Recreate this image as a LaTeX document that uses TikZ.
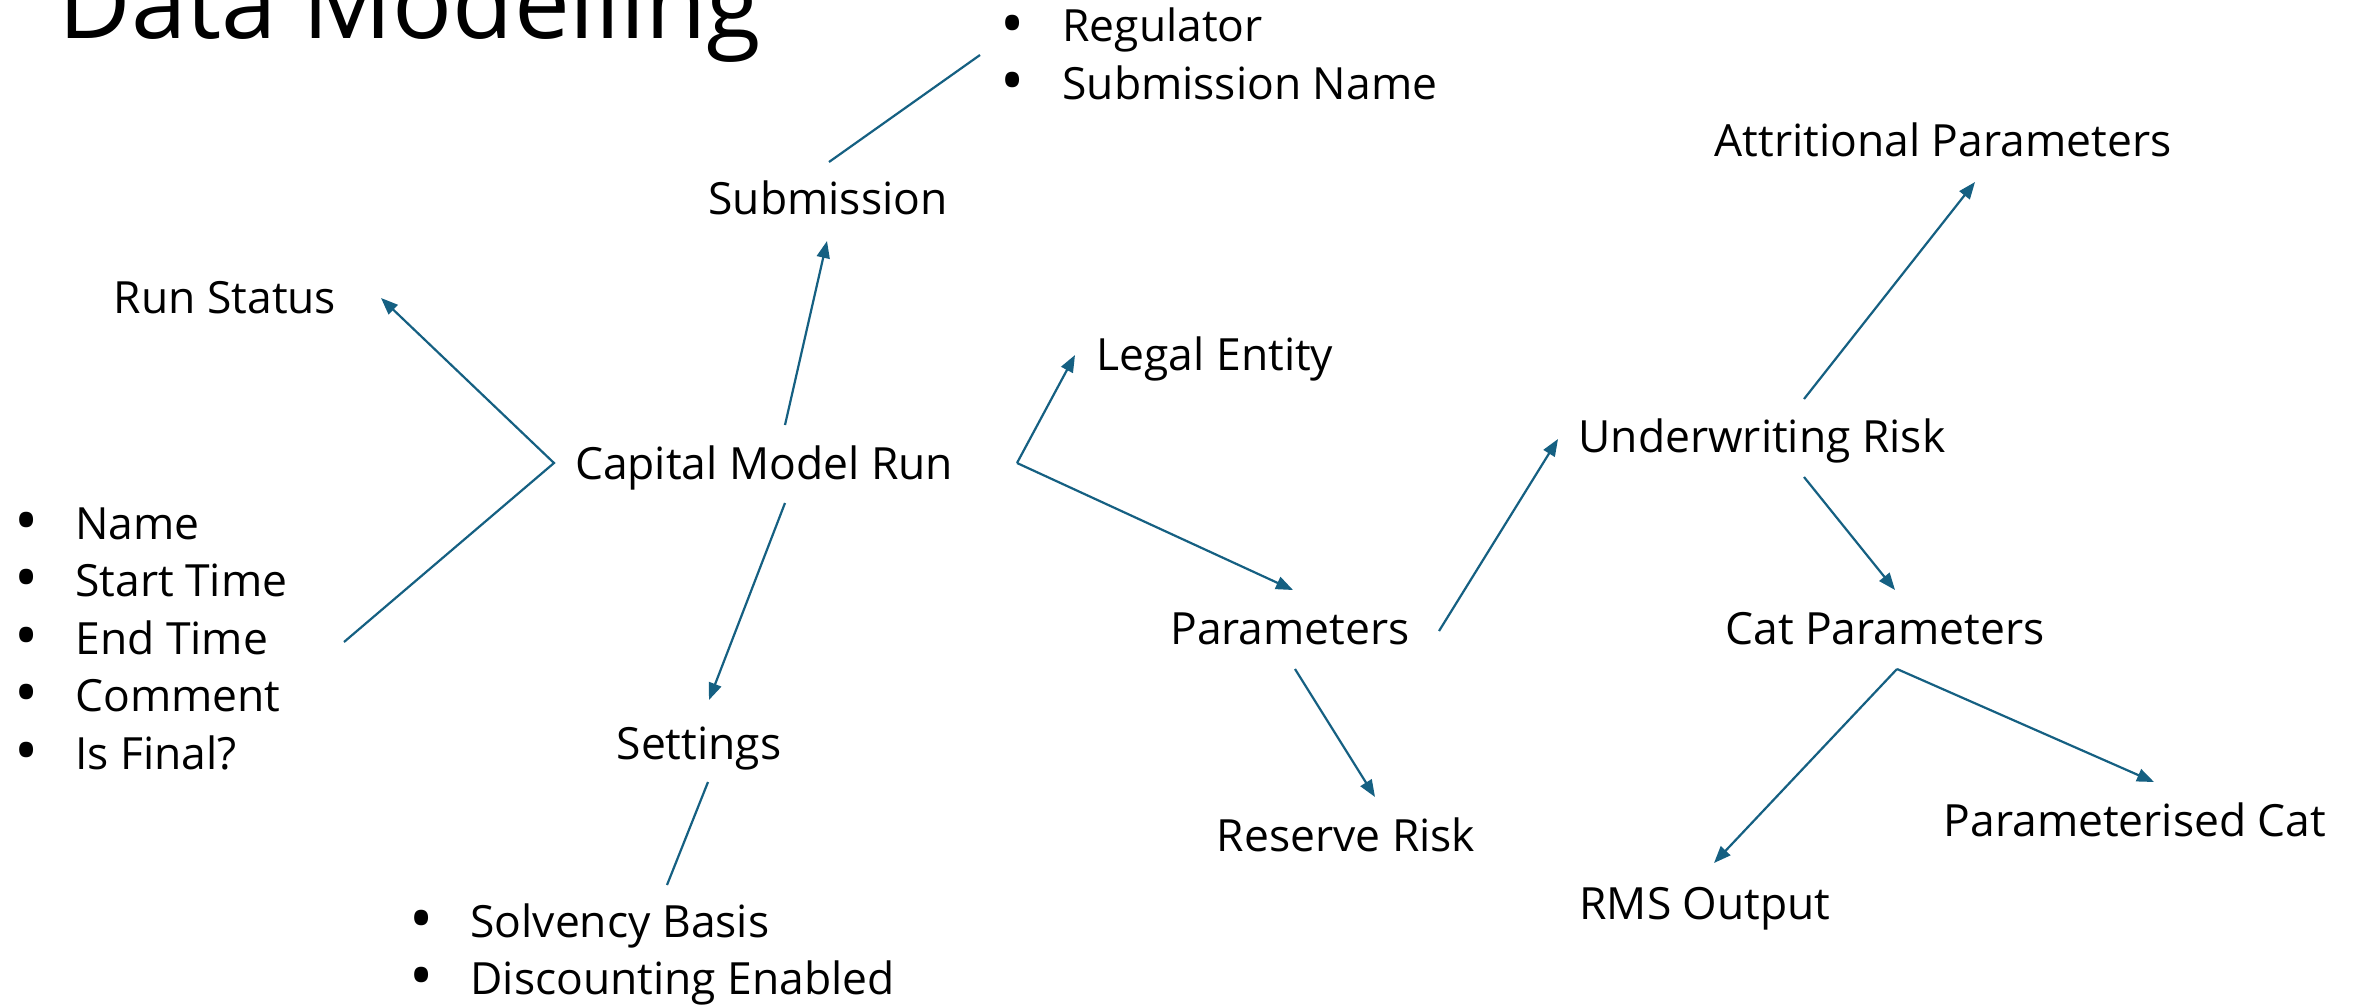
\documentclass[tikz,border=0pt]{standalone}
\usepackage{fontspec}
\setmainfont{Open Sans}
\usetikzlibrary{arrows.meta,calc}
\definecolor{acc}{HTML}{156082}
\newsavebox\measbox
\newcommand\bigbul{\raisebox{-0.1em}[0.45em][0pt]{\scalebox{1.45}{\textbullet}}}
\begin{document}
\sbox\measbox{\fontsize{10}{12}\selectfont Capital Model Run}%
\pgfmathsetmacro\bsz{1890/\the\wd\measbox}%
\sbox\measbox{\fontsize{10}{12}\selectfont Data Modelling}%
\pgfmathsetmacro\tsz{3515/\the\wd\measbox}%
\begin{tikzpicture}[x=0.5pt,y=-0.5pt,
  lbl/.style={inner sep=0pt, anchor=base, text=black, font=\fontsize{\bsz}{28.75}\selectfont},
  listnode/.style={lbl, anchor=base west},
  ln/.style={draw=acc, line width=1.1pt},
  arr/.style={ln, -{Triangle[length=8.5pt,width=6.5pt]}}]
\fill[white] (0,0) rectangle (2359,1006);
\useasboundingbox (0,0) rectangle (2359,1006);

% title
\node[inner sep=0pt, anchor=base west, font=\fontsize{\tsz}{\tsz}\selectfont] (title) at (58,39) {Data Modelling};

% nodes
\node[lbl] (sub)   at (828,214)  {Submission};
\node[lbl] (run)   at (225,313)  {Run Status};
\node[lbl] (cmr)   at (764,479)  {Capital Model Run};
\node[lbl] (legal) at (1215,370) {Legal Entity};
\node[lbl] (par)   at (1290,644) {Parameters};
\node[lbl] (set)   at (699,759)  {Settings};
\node[lbl] (ur)    at (1762,452) {Underwriting Risk};
\node[lbl] (attr)  at (1943,156) {Attritional Parameters};
\node[lbl] (cat)   at (1885,644) {Cat Parameters};
\node[lbl] (res)   at (1346,851) {Reserve Risk};
\node[lbl] (pcat)  at (2135,836) {Parameterised Cat};
\node[lbl] (rms)   at (1705,919) {RMS Output};

% bullet lists
\node[listnode] (reglist) at (1000,42) {\begin{tabular}[t]{@{}p{31pt}@{}l@{}}\bigbul & Regulator\\ \bigbul & Submission Name\end{tabular}};
\node[listnode] (runlist) at (14,539) {\begin{tabular}[t]{@{}p{30.5pt}@{}l@{}}\bigbul & Name\\ \bigbul & Start Time\\ \bigbul & End Time\\ \bigbul & Comment\\ \bigbul & Is Final?\end{tabular}};
\node[listnode] (setlist) at (409,937) {\begin{tabular}[t]{@{}p{30.5pt}@{}l@{}}\bigbul & Solvency Basis\\ \bigbul & Discounting Enabled\end{tabular}};

% junction points
\coordinate (cmrL) at ($(cmr.base)+(-210,-16)$);
\coordinate (cmrR) at ($(cmr.base)+(253,-16)$);
\coordinate (catJ) at ($(cat.base)+(12,25)$);

% connectors
\draw[ln]  ($(sub.base)+(1,-52)$) -- ($(reglist.base west)+(-20,13)$);
\draw[arr] ($(cmr.base)+(21,-54)$) -- ($(sub.base)+(-1,27)$);
\draw[arr] ($(runlist.base west)+(330,103)$) -- (cmrL) -- ($(run.base)+(156,-15)$);
\draw[arr] (cmrR) -- ($(legal.base)+(-140,-15)$);
\draw[arr] (cmrR) -- ($(par.base)+(3,-54)$);
\draw[arr] ($(cmr.base)+(21,24)$) -- ($(set.base)+(10,-59)$);
\draw[ln]  ($(set.base)+(9,23)$) -- ($(setlist.base west)+(258,-52)$);
\draw[arr] ($(par.base)+(149,-13)$) -- ($(ur.base)+(-204,-13)$);
\draw[arr] ($(par.base)+(5,25)$) -- ($(res.base)+(29,-54)$);
\draw[arr] ($(ur.base)+(42,-53)$) -- ($(attr.base)+(32,26)$);
\draw[arr] ($(ur.base)+(42,25)$) -- ($(cat.base)+(10,-54)$);
\draw[arr] (catJ) -- ($(rms.base)+(9,-56)$);
\draw[arr] (catJ) -- ($(pcat.base)+(19,-54)$);
\end{tikzpicture}
\end{document}
